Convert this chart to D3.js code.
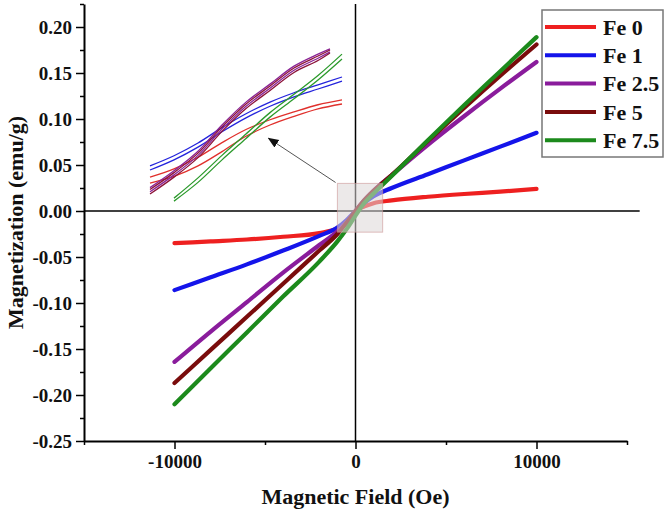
<!DOCTYPE html>
<html>
<head>
<meta charset="utf-8">
<script src="https://cdn.jsdelivr.net/npm/d3@7"></script>
<style>
  body { margin: 0; background: #fff; }
  text { font-family: 'Liberation Serif', 'Times New Roman', serif; font-weight: bold; }
</style>
</head>
<body>
<script>
// M-H loops, main view
const fieldOe = [-10000, -8000, -6000, -4000, -2000, -1000, -500, 0, 500, 1000, 2000, 4000, 6000, 8000, 10000]
const fe0 = [-0.035, -0.033, -0.031, -0.028, -0.024, -0.019, -0.013, 0.000, 0.005, 0.0085, 0.0115, 0.0155, 0.0185, 0.021, 0.024]
const fe1 = [-0.086, -0.072, -0.058, -0.043, -0.027, -0.018, -0.010, 0.000, 0.009, 0.016, 0.025, 0.040, 0.055, 0.070, 0.085]
const fe25 = [-0.164, -0.131, -0.099, -0.067, -0.037, -0.022, -0.012, 0.000, 0.012, 0.022, 0.039, 0.072, 0.103, 0.133, 0.162]
const fe5 = [-0.187, -0.151, -0.115, -0.079, -0.043, -0.025, -0.013, 0.000, 0.012, 0.022, 0.039, 0.076, 0.112, 0.147, 0.181]
const fe75 = [-0.210, -0.171, -0.132, -0.093, -0.055, -0.033, -0.020, -0.005, 0.009, 0.019, 0.038, 0.077, 0.115, 0.152, 0.189]

const labels = ['Fe 0', 'Fe 1', 'Fe 2.5', 'Fe 5', 'Fe 7.5']
const colors = ['#ee2020', '#1414ea', '#8a1c9c', '#7a0c0c', '#1c8a1c']

// zoomed loops near origin (inset), two branches each
const insetField = [-1000, -750, -500, -250, 0, 250, 500, 750, 1000]
const insetFieldPM = [-1000, -750, -500, -250, 0, 250, 500, 750, 875]
const insetFieldG = [-750, -500, -250, 0, 250, 500, 750, 1000]
const fe0Up = [-0.0139, -0.0117, -0.0086, -0.0047, -0.0012, 0.0014, 0.0035, 0.0054, 0.0067]
const fe0Down = [-0.0155, -0.0137, -0.0109, -0.0071, -0.0030, 0.0000, 0.0023, 0.0043, 0.0056]
const fe1Up = [-0.0109, -0.0082, -0.0048, -0.0007, 0.0030, 0.0061, 0.0086, 0.0107, 0.0128]
const fe1Down = [-0.0120, -0.0093, -0.0059, -0.0018, 0.0019, 0.0050, 0.0075, 0.0096, 0.0117]
const fe25Up = [-0.0167, -0.0122, -0.0070, 0.0000, 0.0061, 0.0109, 0.0157, 0.0189, 0.0203]
const fe25Down = [-0.0178, -0.0133, -0.0081, -0.0011, 0.0050, 0.0098, 0.0146, 0.0178, 0.0195]
const fe5Up = [-0.0172, -0.0127, -0.0075, -0.0005, 0.0056, 0.0104, 0.0152, 0.0184, 0.0200]
const fe5Down = [-0.0184, -0.0139, -0.0087, -0.0017, 0.0044, 0.0092, 0.0140, 0.0172, 0.0192]
const fe75Up = [-0.0195, -0.0141, -0.0081, -0.0024, 0.0033, 0.0082, 0.0132, 0.0189]
const fe75Down = [-0.0203, -0.0153, -0.0093, -0.0036, 0.0021, 0.0070, 0.0120, 0.0176]

const yTicks = [-0.25, -0.20, -0.15, -0.10, -0.05, 0.00, 0.05, 0.10, 0.15, 0.20]
const yMinor = [-0.225, -0.175, -0.125, -0.075, -0.025, 0.025, 0.075, 0.125, 0.175, 0.225]
const xTicks = [-10000, 0, 10000]
const xMinor = [-15000, -5000, 5000, 15000]

const w = 666
const h = 516

const svg = d3.select('body')
  .append('svg')
  .attr('width', w)
  .attr('height', h)

const x = d3.scaleLinear().domain([-15000, 15000]).range([84, 627])
const y = d3.scaleLinear().domain([-0.25, 0.225]).range([441, 4])

const insetX = d3.scaleLinear().domain([-1000, 1000]).range([150, 342])
const insetY = d3.scaleLinear().domain([-0.02, 0.02]).range([200, 50])

// zero lines
svg.append('line')
  .attr('x1', x(-15000)).attr('x2', x(15700))
  .attr('y1', y(0)).attr('y2', y(0))
  .attr('stroke', '#000').attr('stroke-width', 1.5)
svg.append('line')
  .attr('x1', x(0)).attr('x2', x(0))
  .attr('y1', y(0.225)).attr('y2', y(-0.25))
  .attr('stroke', '#000').attr('stroke-width', 1.5)

// main curves
const line = d3.line()
  .x(d => x(d[0]))
  .y(d => y(d[1]))
  .curve(d3.curveMonotoneX)

const series = [fe0, fe1, fe25, fe5, fe75]
svg.selectAll('path.main')
  .data(series)
  .enter()
  .append('path')
  .attr('class', 'main')
  .attr('d', d => line(d.map((v, i) => [fieldOe[i], v])))
  .attr('fill', 'none')
  .attr('stroke', (d, i) => colors[i])
  .attr('stroke-width', 4.2)
  .attr('stroke-linecap', 'round')

// shaded zoom region
svg.append('rect')
  .attr('x', x(-1000))
  .attr('y', y(0.030))
  .attr('width', x(1500) - x(-1000))
  .attr('height', y(-0.023) - y(0.030))
  .attr('fill', 'rgba(220,215,215,0.55)')
  .attr('stroke', 'rgba(205,150,150,0.6)')
  .attr('stroke-width', 1)

// arrow to inset
svg.append('defs').append('marker')
  .attr('id', 'head')
  .attr('viewBox', '0 0 10 10')
  .attr('refX', 9).attr('refY', 5)
  .attr('markerWidth', 11).attr('markerHeight', 11)
  .attr('markerUnits', 'userSpaceOnUse')
  .attr('orient', 'auto')
  .append('path')
  .attr('d', 'M0,1 L10,5 L0,9 Z')
  .attr('fill', '#111')

svg.append('line')
  .attr('x1', x(-1100)).attr('y1', y(0.031))
  .attr('x2', x(-4800)).attr('y2', y(0.079))
  .attr('stroke', '#555')
  .attr('stroke-width', 1)
  .attr('marker-end', 'url(#head)')

// inset loops
const insetLine = d3.line()
  .x(d => insetX(d[0]))
  .y(d => insetY(d[1]))
  .curve(d3.curveCatmullRom)

const insetColors = ['#e0302c', '#2424dc', '#8a2496', '#8c1238', '#2c9a2c']
const branches = [
  [insetField, fe0Up, 0], [insetField, fe0Down, 0],
  [insetField, fe1Up, 1], [insetField, fe1Down, 1],
  [insetFieldPM, fe25Up, 2], [insetFieldPM, fe25Down, 2],
  [insetFieldPM, fe5Up, 3], [insetFieldPM, fe5Down, 3],
  [insetFieldG, fe75Up, 4], [insetFieldG, fe75Down, 4]
]
svg.selectAll('path.inset')
  .data(branches)
  .enter()
  .append('path')
  .attr('class', 'inset')
  .attr('d', d => insetLine(d[1].map((v, i) => [d[0][i], v])))
  .attr('fill', 'none')
  .attr('stroke', d => insetColors[d[2]])
  .attr('stroke-width', 1.3)

// axes
const yAxis = svg.append('g')
  .attr('transform', `translate(${x(-15000)},0)`)
  .call(d3.axisLeft(y).tickValues(yTicks).tickFormat(d => d.toFixed(2)).tickSize(8).tickSizeOuter(0).tickPadding(4))
yAxis.append('g')
  .call(d3.axisLeft(y).tickValues(yMinor).tickFormat('').tickSize(4).tickSizeOuter(0))
  .select('.domain').remove()

const xAxis = svg.append('g')
  .attr('transform', `translate(0,${y(-0.25)})`)
  .call(d3.axisBottom(x).tickValues(xTicks).tickFormat(d => String(d)).tickSize(8).tickSizeOuter(0).tickPadding(6))
xAxis.append('g')
  .call(d3.axisBottom(x).tickValues(xMinor).tickFormat('').tickSize(4).tickSizeOuter(0))
  .select('.domain').remove()

svg.selectAll('.domain').attr('stroke', '#000').attr('stroke-width', 2)
svg.selectAll('.tick line').attr('stroke', '#000').attr('stroke-width', 1.5)
svg.selectAll('.tick text')
  .attr('font-family', "'Liberation Serif', serif")
  .attr('font-weight', 'bold')
  .attr('font-size', 19)
  .attr('fill', '#111')

// titles
svg.append('text')
  .attr('x', (x(-15000) + x(15000)) / 2)
  .attr('y', 504)
  .attr('text-anchor', 'middle')
  .attr('font-size', 22)
  .attr('fill', '#111')
  .text('Magnetic Field (Oe)')

svg.append('text')
  .attr('transform', `translate(23,${(y(0.225) + y(-0.25)) / 2}) rotate(-90)`)
  .attr('text-anchor', 'middle')
  .attr('font-size', 22)
  .attr('fill', '#111')
  .text('Magnetization (emu/g)')

// legend
const legend = svg.append('g')
legend.append('rect')
  .attr('x', 542).attr('y', 10)
  .attr('width', 121).attr('height', 147)
  .attr('fill', '#fff')
  .attr('stroke', '#777')
  .attr('stroke-width', 1.5)

const rows = legend.selectAll('g.row')
  .data(labels)
  .enter()
  .append('g')
  .attr('class', 'row')
  .attr('transform', (d, i) => `translate(0,${27 + i * 28.3})`)
rows.append('line')
  .attr('x1', 545).attr('x2', 596)
  .attr('stroke', (d, i) => colors[i])
  .attr('stroke-width', 4)
rows.append('text')
  .attr('x', 603)
  .attr('dy', '0.35em')
  .attr('font-size', 22)
  .attr('fill', '#111')
  .text(d => d)
</script>
</body>
</html>
